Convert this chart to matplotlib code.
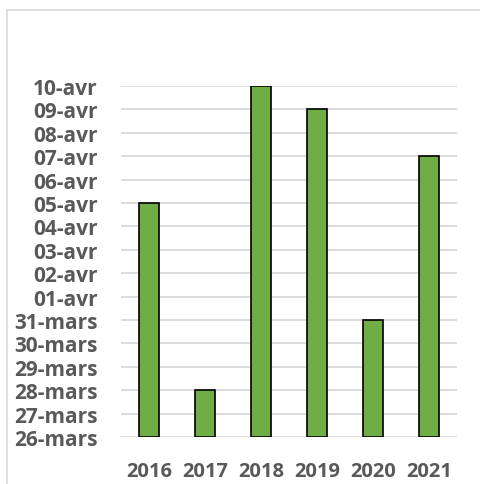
import datetime as dt
import matplotlib
matplotlib.use("Agg")
import matplotlib.pyplot as plt
import matplotlib.dates as mdates
from matplotlib.patches import Rectangle

# data: date of the event each year (day, month)
years = ["2016", "2017", "2018", "2019", "2020", "2021"]
days = [5, 28, 10, 9, 31, 7]
months = [4, 3, 4, 4, 3, 4]

axis_start = (26, 3)
axis_end = (10, 4)
month_names = {3: "mars", 4: "avr"}

REF_YEAR = 2000


def to_num(day, month):
    return mdates.date2num(dt.date(REF_YEAR, month, day))


values = [to_num(d, m) for d, m in zip(days, months)]
y0 = to_num(*axis_start)
y1 = to_num(*axis_end)

plt.rcParams['font.family'] = ['Open Sans', 'DejaVu Sans']
text_color = '#595959'

fig = plt.figure(figsize=(4.81, 4.85), dpi=100)
fig.patch.set_facecolor('white')

# outer chart border (cropped on the right and bottom)
fig.patches.append(Rectangle((7 / 481, -0.1), 1.2, 1 - 11 / 485 + 0.1,
                             transform=fig.transFigure, fill=False,
                             edgecolor='#d9d9d9', linewidth=1.2))

ax = fig.add_axes([121 / 481, 1 - 438 / 485, 336 / 481, (438 - 87) / 485])

x = range(len(years))
heights = [v - y0 for v in values]
ax.bar(x, heights, bottom=y0, width=0.34, color='#70ad47',
       edgecolor='black', linewidth=1.2, zorder=3)

ticks = []
labels = []
t = y0
while t <= y1 + 1e-9:
    d = mdates.num2date(t)
    ticks.append(t)
    labels.append(f"{d.day:02d}-{month_names[d.month]}")
    t += 1

ax.set_yticks(ticks)
ax.set_yticklabels(labels)
ax.set_ylim(y0, y1)
ax.set_xlim(-0.5, len(years) - 0.5)
ax.set_xticks(list(x))
ax.set_xticklabels(years)

ax.grid(axis='y', color='#d9d9d9', linewidth=1.3, zorder=0)
for s in ax.spines.values():
    s.set_visible(False)
ax.tick_params(length=0)
ax.tick_params(axis='y', pad=17, labelsize=15, labelcolor=text_color)
ax.tick_params(axis='x', pad=17, labelsize=14.5, labelcolor=text_color)
for lbl in ax.get_xticklabels() + ax.get_yticklabels():
    lbl.set_fontweight('bold')

fig.savefig("out.png", dpi=100)
